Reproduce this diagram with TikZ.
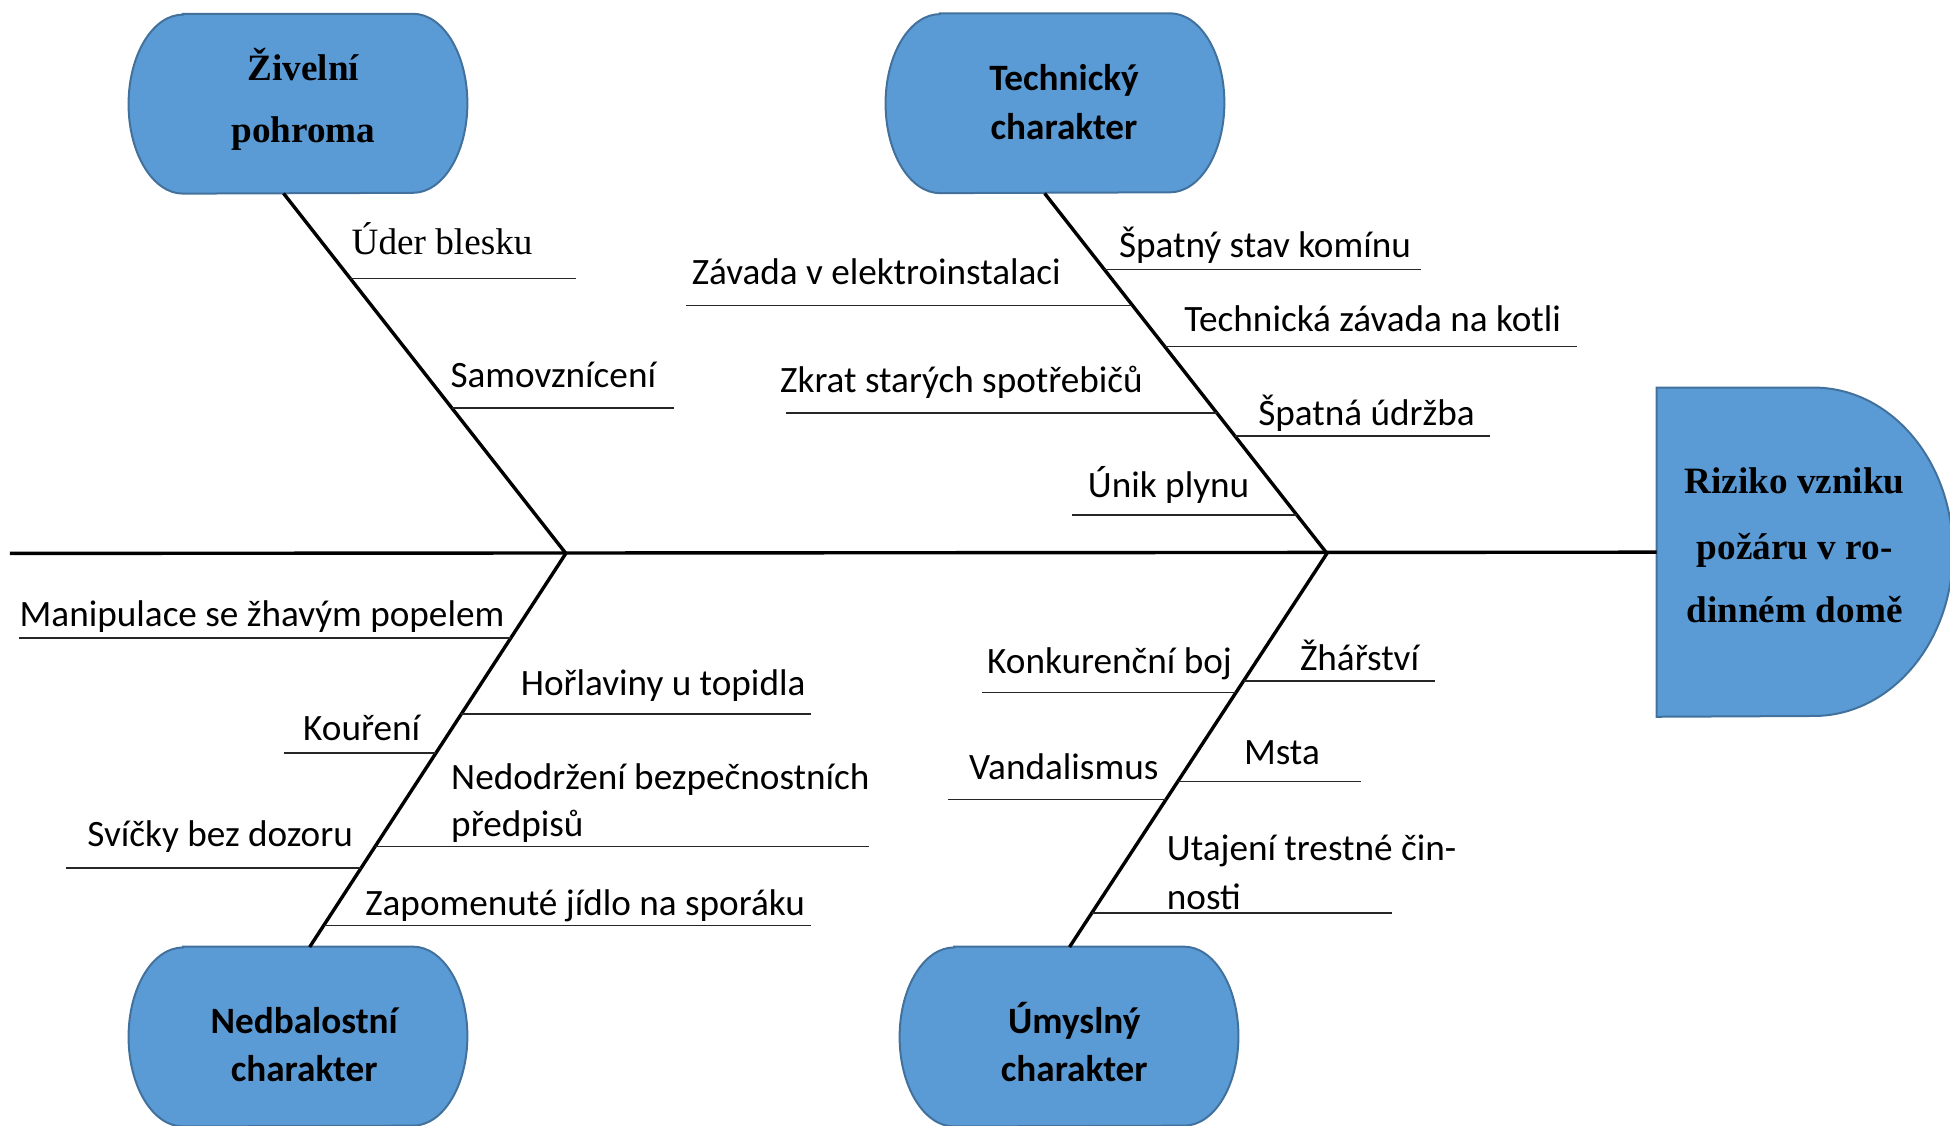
\documentclass[tikz,border=0pt]{standalone}
\usepackage{fontspec}
\setmainfont{Carlito}
\newfontfamily\timesf{Liberation Serif}
\definecolor{boxfill}{HTML}{5B9BD5}
\definecolor{boxline}{HTML}{41719C}
\newcommand\termshape[1]{%
  \path[shapefill] ([xshift=27.2pt]#1.north west) -- ([xshift=-27.2pt]#1.north east)
    arc[start angle=90, end angle=-90, x radius=27.2pt, y radius=44.75pt]
    -- ([xshift=27.2pt]#1.south west)
    arc[start angle=270, end angle=90, x radius=27.2pt, y radius=44.75pt] -- cycle;}
\begin{document}
\begin{tikzpicture}[x=0.6218pt, y=-0.6218pt,
  lbl/.style={anchor=base west, inner sep=0pt, yshift=-1.2pt, font=\fontsize{18.6pt}{22pt}\selectfont},
  lblt/.style={anchor=base west, inner sep=0pt, yshift=-1.2pt, font=\timesf\fontsize{18.6pt}{22pt}\selectfont},
  boxc/.style={anchor=base, inner sep=0pt, yshift=-1.2pt, font=\bfseries\fontsize{18.6pt}{22pt}\selectfont},
  boxt/.style={anchor=base, inner sep=0pt, yshift=-1.2pt, font=\timesf\bfseries\fontsize{18.6pt}{22pt}\selectfont},
  termbox/.style={minimum width=169pt, minimum height=89.5pt, inner sep=0pt},
  shapefill/.style={fill=boxfill, draw=boxline, line width=1pt},
  bone/.style={line width=1.7pt, black},
  sub/.style={line width=0.7pt, black!85},
]
\useasboundingbox (0,0) rectangle (1568,905);
\clip (0,0) rectangle (1568,905);

% boxes
\node[termbox] (ziv) at (239.6,83.4) {};
\node[termbox] (tech) at (848.3,83) {};
\node[termbox] (nedb) at (239.6,833.5) {};
\node[termbox] (umys) at (859.6,833.5) {};
\node[inner sep=0pt, minimum width=78.1pt, minimum height=164.2pt] (head) at (1395.2,444) {};
\termshape{ziv}
\termshape{tech}
\termshape{nedb}
\termshape{umys}
\path[shapefill] (head.north west) -- (head.north east)
  arc[start angle=90, end angle=-90, x radius=69.6pt, y radius=82.1pt]
  -- (head.south west) -- cycle;

% box texts
\node[boxt] (zivA) at (244,62.5) {Živelní};
\node[boxt] (zivB) at (244,113) {pohroma};
\node[boxc] (techA) at (855.6,71) {Technický};
\node[boxc] (techB) at (855.6,110) {charakter};
\node[boxc] (nedbA) at (244.6,829) {Nedbalostní};
\node[boxc] (nedbB) at (244.6,867.5) {charakter};
\node[boxc] (umysA) at (863.8,829) {Úmyslný};
\node[boxc] (umysB) at (863.8,867.5) {charakter};
\node[boxt] (headA) at (1443,395) {Riziko vzniku};
\node[boxt] (headB) at (1443,448) {požáru v ro-};
\node[boxt] (headC) at (1443,499) {dinném domě};

% spine and bones
\coordinate (tail) at (8,445);
\coordinate (j1) at (455,445);
\coordinate (j2) at (1067,445);
\coordinate (b1) at (228,155.5);
\coordinate (b2) at (840,155.5);
\coordinate (b3) at (249,761.5);
\coordinate (b4) at (860,761.5);
\draw[bone] (tail) -- (head.west);
\draw[bone] (b1) -- (j1) -- (b3);
\draw[bone] (b2) -- (j2) -- (b4);

% top-left sub-bones
\draw[sub] (281.7,224) -- (463,224);
\draw[sub] (363.3,328) -- (542,328);
\node[lblt] (l1) at (282.5,202.5) {Úder blesku};
\node[lbl] (l2) at (362,310) {Samovznícení};

% top-middle sub-bones
\draw[sub] (887.8,216.5) -- (1143,216.5);
\draw[sub] (552,245.5) -- (910.6,245.5);
\draw[sub] (936.4,278.5) -- (1268,278.5);
\draw[sub] (632,332) -- (978.4,332);
\draw[sub] (992.9,350.5) -- (1198,350.5);
\draw[sub] (862,414) -- (1042.7,414);
\node[lbl] (l3) at (899.5,205) {Špatný stav komínu};
\node[lbl] (l4) at (556,227) {Závada v elektroinstalaci};
\node[lbl] (l5) at (952,265) {Technická závada na kotli};
\node[lbl] (l6) at (627,314) {Zkrat starých spotřebičů};
\node[lbl] (l7) at (1011.5,340) {Špatná údržba};
\node[lbl] (l8) at (874.5,398) {Únik plynu};

% bottom-left sub-bones
\draw[sub] (15,513) -- (410.7,513);
\draw[sub] (371,574) -- (652,574);
\draw[sub] (228,605.5) -- (350.5,605.5);
\draw[sub] (301.7,680.5) -- (699,680.5);
\draw[sub] (53,698) -- (290.3,698);
\draw[sub] (260.4,744) -- (652,744);
\node[lbl] (l9) at (15.5,502) {Manipulace se žhavým popelem};
\node[lbl] (l10) at (418.5,557) {Hořlaviny u topidla};
\node[lbl] (l11) at (243.5,593.5) {Kouření};
\node[lbl] (l12a) at (362.5,633) {Nedodržení bezpečnostních};
\node[lbl] (l12b) at (362.5,671) {předpisů};
\node[lbl] (l13) at (70,679) {Svíčky bez dozoru};
\node[lbl] (l14) at (293.5,734) {Zapomenuté jídlo na sporáku};

% bottom-middle sub-bones
\draw[sub] (1000,547.5) -- (1154,547.5);
\draw[sub] (790,557) -- (993.8,557);
\draw[sub] (947,628.5) -- (1094,628.5);
\draw[sub] (762,643) -- (937.5,643);
\draw[sub] (878,734) -- (1119,734);
\node[lbl] (l15) at (1045,537) {Žhářství};
\node[lbl] (l16) at (793.5,540) {Konkurenční boj};
\node[lbl] (l17) at (1000,612.5) {Msta};
\node[lbl] (l18) at (779,624.5) {Vandalismus};
\node[lbl] (l19a) at (938,690) {Utajení trestné čin-};
\node[lbl] (l19b) at (938,729) {nosti};
\end{tikzpicture}
\end{document}
